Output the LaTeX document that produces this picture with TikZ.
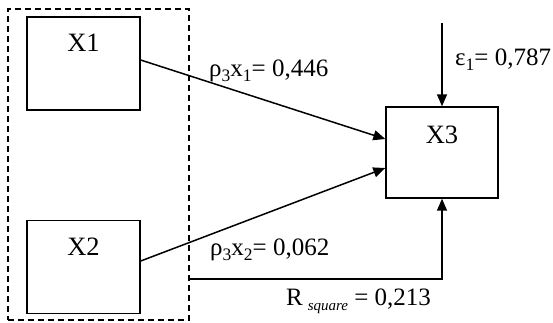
\documentclass[tikz,border=0pt]{standalone}
\usepackage{fontspec}
\setmainfont{Liberation Serif}
\usetikzlibrary{arrows.meta,calc}
\newcommand\sbx[1]{\raisebox{-0.2em}{\fontsize{17.5}{18}\selectfont #1}}
\newcommand\sbsq[1]{\raisebox{-0.2em}{\fontsize{15}{16}\selectfont\itshape #1}}
\tikzset{
  varbox/.style={draw, line width=1.4pt, minimum width=113pt, minimum height=93pt, inner sep=0pt},
  grpbox/.style={draw, dashed, dash pattern=on 6pt off 4pt, line width=1.2pt, minimum width=181pt, minimum height=311pt, inner sep=0pt},
  boxlabel/.style={anchor=north, inner sep=0pt, font=\fontsize{26.5}{30}\selectfont},
  coef/.style={anchor=base west, inner sep=0pt, font=\fontsize{25}{29}\selectfont},
  path/.style={line width=1.5pt, -{Triangle[length=12pt,width=10pt]}},
}
\begin{document}
\begin{tikzpicture}[x=1pt,y=-1pt]
\useasboundingbox (0,0) rectangle (553,322);
\node[grpbox] (grp) at (98.5,164.5) {};
\node[varbox] (x1) at (83.5,63.5) {};
\node[boxlabel] (x1t) at ([yshift=-18pt]x1.north) {X1};
\node[varbox] (x2) at (83.5,267) {};
\node[boxlabel] (x2t) at ([yshift=-18pt]x2.north) {X2};
\node[varbox, minimum width=112pt, minimum height=91pt] (x3) at (442,152.5) {};
\node[boxlabel] (x3t) at ([yshift=-19pt]x3.north) {X3};
\draw[path] ([yshift=3.5pt]x1.east) -- ([yshift=13.5pt]x3.west);
\draw[path] ([yshift=6pt]x2.east) -- ([yshift=-15.5pt]x3.west);
\coordinate (e0) at (442,23);
\draw[path] (e0) -- (x3.north);
\coordinate (r0) at (grp.east |- 0,279);
\draw[path] (r0) -| (x3.south);
\node[coef] (l1) at (209,76) {ρ\sbx{3}x\sbx{1}= 0,446};
\node[coef] (l2) at (210,255) {ρ\sbx{3}x\sbx{2}= 0,062};
\node[coef] (l3) at (455,65) {ε\sbx{1}= 0,787};
\node[coef] (l4) at (286,305) {R\hspace{0.2em}\sbsq{square} = 0,213};
\end{tikzpicture}
\end{document}
